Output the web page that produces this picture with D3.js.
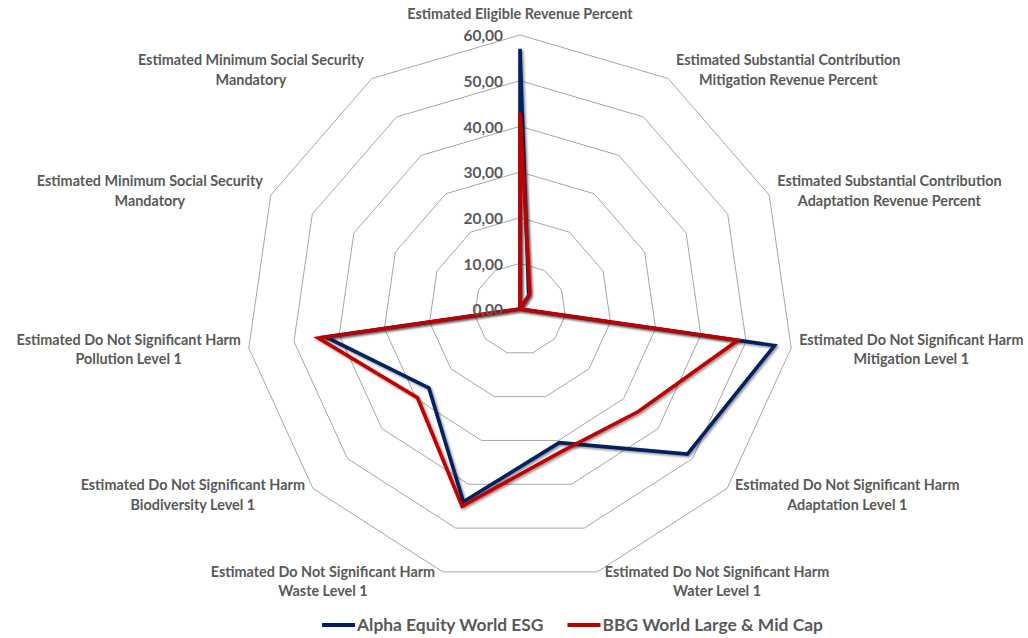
<!DOCTYPE html>
<html>
<head>
<meta charset="utf-8">
<script src="https://cdn.jsdelivr.net/npm/d3@7"></script>
<style>
  body { margin: 0; background: #fff; }
  svg { display: block; font-family: Lato, "Open Sans", sans-serif; font-weight: bold; }
</style>
</head>
<body>
<svg id="chart" width="1028" height="638"></svg>
<script>
var categories = [
    "Estimated Eligible Revenue Percent",
    "Estimated Substantial Contribution\nMitigation Revenue Percent",
    "Estimated Substantial Contribution\nAdaptation Revenue Percent",
    "Estimated Do Not Significant Harm\nMitigation Level 1",
    "Estimated Do Not Significant Harm\nAdaptation Level 1",
    "Estimated Do Not Significant Harm\nWater Level 1",
    "Estimated Do Not Significant Harm\nWaste Level 1",
    "Estimated Do Not Significant Harm\nBiodiversity Level 1",
    "Estimated Do Not Significant Harm\nPollution Level 1",
    "Estimated Minimum Social Security\nMandatory",
    "Estimated Minimum Social Security\nMandatory"
];
var alphaValues = [57.0, 3.5, 0.0, 56.3, 48.5, 30.5, 44.0, 26.4, 43.0, 0.0, 0.0];
var bbgValues   = [43.0, 4.0, 0.0, 48.2, 34.3, 32.5, 45.0, 29.7, 44.6, 0.0, 0.0];
var seriesNames = ["Alpha Equity World ESG", "BBG World Large & Mid Cap"];
var tickValues = [0, 10, 20, 30, 40, 50, 60];

var cx = 520, cy = 309, R = 274;
var textColor = "#595959";
var colors = ["#002060", "#c00000"];

var svg = d3.select("#chart");
var n = categories.length;
var step = 2 * Math.PI / n;
var r = d3.scaleLinear().domain([0, 60]).range([0, R]);
var fmt = d3.formatLocale({decimal: ",", thousands: ".", grouping: [3], currency: ["", ""]}).format(".2f");

var defs = svg.append("defs");
var f = defs.append("filter").attr("id", "shadow")
    .attr("x", "-20%").attr("y", "-20%").attr("width", "140%").attr("height", "140%");
f.append("feDropShadow").attr("dx", 1.5).attr("dy", 1.5).attr("stdDeviation", 1.3)
    .attr("flood-color", "#000").attr("flood-opacity", 0.45);

var g = svg.append("g").attr("transform", "translate(" + cx + "," + cy + ")");

// grid rings
var ringLine = d3.lineRadial()
    .angle(function(d, i){ return i * step; })
    .radius(function(d){ return r(d); })
    .curve(d3.curveLinearClosed);

g.selectAll(".ring")
    .data(tickValues.filter(function(v){ return v > 0; }))
    .enter()
    .append("path")
    .attr("class", "ring")
    .attr("d", function(v){ return ringLine(d3.range(n).map(function(){ return v; })); })
    .attr("fill", "none")
    .attr("stroke", "#a6a6a6")
    .attr("stroke-width", 1);

// series
var seriesLine = d3.lineRadial()
    .angle(function(d, i){ return i * step; })
    .radius(function(d){ return r(d); })
    .curve(d3.curveLinearClosed);

g.selectAll(".series")
    .data([alphaValues, bbgValues])
    .enter()
    .append("path")
    .attr("class", "series")
    .attr("d", function(d){ return seriesLine(d); })
    .attr("fill", "none")
    .attr("stroke", function(d, i){ return colors[i]; })
    .attr("stroke-width", 3.6)
    .attr("stroke-linejoin", "miter")
    .attr("filter", "url(#shadow)");

// tick labels
g.selectAll(".tick")
    .data(tickValues)
    .enter()
    .append("text")
    .attr("class", "tick")
    .attr("x", -17)
    .attr("y", function(v){ return -r(v) + 1; })
    .attr("dy", "0.35em")
    .attr("text-anchor", "end")
    .attr("fill", textColor)
    .style("font-size", "15.5px")
    .text(function(v){ return fmt(v); });

// category labels, lines centred inside their box
var lineH = 19.5;
categories.forEach(function(name, i){
    var a = i * step;
    var s = Math.sin(a), c = Math.cos(a);
    var vx = cx + R * s, vy = cy - R * c;
    var lines = name.split("\n");
    var t = svg.append("text")
        .attr("text-anchor", "middle")
        .attr("fill", textColor)
        .style("font-size", "14.4px");
    var spans = lines.map(function(l){ return t.append("tspan").attr("dy", "0.35em").text(l); });
    var w = d3.max(spans, function(sp){ return sp.node().getComputedTextLength(); });
    var x, yc;
    if(Math.abs(s) < 0.01)
    {
        x = vx; yc = vy - 21;
    }
    else
    {
        x = s > 0 ? vx + 8 + w / 2 : vx - 8 - w / 2;
        yc = vy - c * 10;
    }
    spans.forEach(function(sp, k){
        sp.attr("x", x).attr("y", yc - (lines.length - 1) * lineH / 2 + k * lineH);
    });
});

// legend
var lx = 322, ly = 625;
var legend = svg.append("g");
seriesNames.forEach(function(name, i){
    legend.append("line")
        .attr("x1", lx).attr("x2", lx + 33)
        .attr("y1", ly).attr("y2", ly)
        .attr("stroke", colors[i])
        .attr("stroke-width", 4);
    var t = legend.append("text")
        .attr("x", lx + 35)
        .attr("y", ly)
        .attr("dy", "0.35em")
        .attr("fill", textColor)
        .style("font-size", "17.4px")
        .text(name);
    lx = lx + 35 + t.node().getComputedTextLength() + 24;
});
</script>
</body>
</html>
